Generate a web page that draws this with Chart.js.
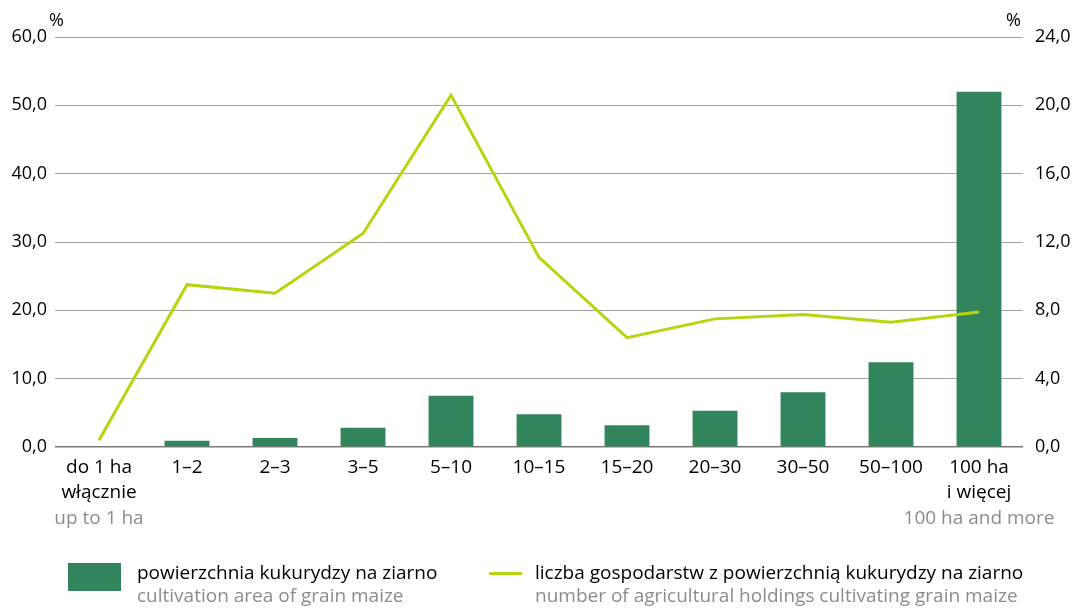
<!DOCTYPE html>
<html>
<head>
<meta charset="utf-8">
<script src="https://cdn.jsdelivr.net/npm/chart.js@4.4.1/dist/chart.umd.min.js"></script>
<style>
  body { margin: 0; background: #fff; font-family: "Open Sans", sans-serif; }
  #wrap { position: relative; width: 1074px; height: 608px; }
  #chart { position: absolute; left: 0; top: 0; }
  .pct { position: absolute; top: 7px; font-size: 18px; color: #000; }
  .leg { position: absolute; top: 561px; font-size: 19px; line-height: 23px; color: #000; }
  .leg .en { color: #8c8c8c; }
  .sw { position: absolute; }
</style>
</head>
<body>
<div id="wrap">
  <canvas id="chart" width="1074" height="608"></canvas>
  <div class="pct" style="left:49px">%</div>
  <div class="pct" style="left:1006px">%</div>
  <div class="sw" style="left:68px;top:563px;width:53px;height:28px;background:#31845b"></div>
  <div class="leg" style="left:137px">powierzchnia kukurydzy na ziarno<br><span class="en">cultivation area of grain maize</span></div>
  <div class="sw" style="left:489px;top:572px;width:33px;height:3px;background:#b8d40f"></div>
  <div class="leg" style="left:535px">liczba gospodarstw z powierzchnią kukurydzy na ziarno<br><span class="en">number of agricultural holdings cultivating grain maize</span></div>
</div>
<script>
const categories = ['do 1 ha', '1–2', '2–3', '3–5', '5–10', '10–15', '15–20', '20–30', '30–50', '50–100', '100 ha'];
const labelLines2 = ['włącznie', '', '', '', '', '', '', '', '', '', 'i więcej'];
const labelLinesEn = ['up to 1 ha', '', '', '', '', '', '', '', '', '', '100 ha and more'];
const areaShare = [0, 0.9, 1.3, 2.8, 7.5, 4.8, 3.2, 5.3, 8.0, 12.4, 52.0];
const holdingsShare = [0.4, 9.5, 9.0, 12.5, 20.6, 11.1, 6.4, 7.5, 7.75, 7.3, 7.9];

const fmt = v => v.toFixed(1).replace('.', ',');
const FONT = '"Open Sans", sans-serif';

const xLabels = {
  id: 'xLabels',
  afterDraw(chart) {
    const { ctx, scales: { x } } = chart;
    ctx.save();
    ctx.font = '19px ' + FONT;
    ctx.textAlign = 'center';
    ctx.textBaseline = 'middle';
    categories.forEach((c, i) => {
      const px = x.getPixelForValue(i);
      ctx.fillStyle = '#000';
      ctx.fillText(c, px, 468);
      if (labelLines2[i]) ctx.fillText(labelLines2[i], px, 493);
      if (labelLinesEn[i]) {
        ctx.fillStyle = '#8c8c8c';
        ctx.fillText(labelLinesEn[i], px, 519);
      }
    });
    ctx.restore();
  }
};

new Chart(document.getElementById('chart'), {
  type: 'bar',
  data: {
    labels: categories,
    datasets: [
      {
        type: 'line',
        data: holdingsShare,
        yAxisID: 'y1',
        borderColor: '#b8d40f',
        borderWidth: 3,
        pointRadius: 0,
        tension: 0,
        order: 0
      },
      {
        data: areaShare,
        yAxisID: 'y',
        backgroundColor: '#31845b',
        barPercentage: 0.51,
        categoryPercentage: 1,
        order: 1
      }
    ]
  },
  options: {
    responsive: false,
    animation: false,
    layout: { padding: { top: 37, bottom: 0 } },
    plugins: { legend: { display: false }, tooltip: { enabled: false } },
    scales: {
      x: {
        ticks: { display: false },
        grid: { display: false },
        border: { display: false },
        afterFit: s => { s.height = 161; }
      },
      y: {
        min: 0, max: 60,
        ticks: { stepSize: 10, callback: fmt, color: '#000', font: { size: 18, family: FONT }, padding: 8 },
        grid: { drawTicks: false, color: c => c.tick.value === 0 ? '#7a7a7a' : '#a0a0a0', lineWidth: c => c.tick.value === 0 ? 1.5 : 1 },
        border: { display: false },
        afterFit: s => { s.width = 55; }
      },
      y1: {
        position: 'right',
        min: 0, max: 24,
        ticks: { stepSize: 4, callback: fmt, color: '#000', font: { size: 18, family: FONT }, padding: 12 },
        grid: { drawOnChartArea: false, drawTicks: false },
        border: { display: false },
        afterFit: s => { s.width = 51; }
      }
    }
  },
  plugins: [xLabels]
});
</script>
</body>
</html>
